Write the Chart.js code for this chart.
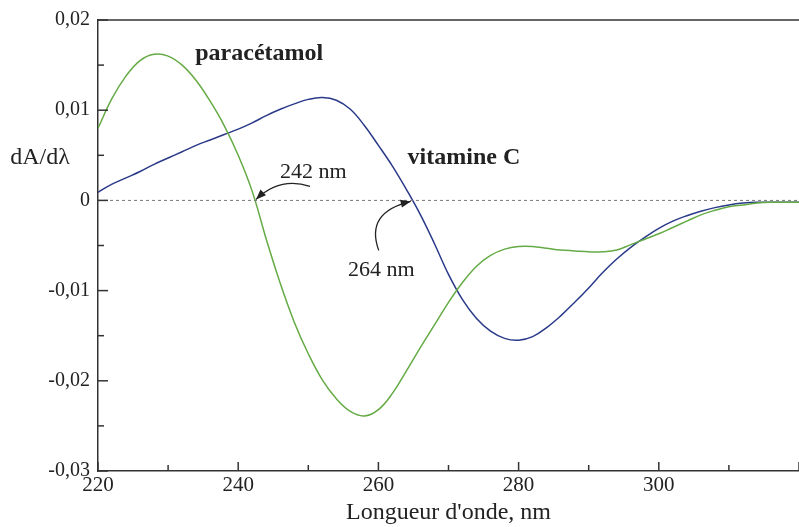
<!DOCTYPE html>
<html>
<head>
<meta charset="utf-8">
<script src="https://cdn.jsdelivr.net/npm/chart.js@4"></script>
<style>
  body { margin: 0; background: #fff; }
  canvas { display: block; }
</style>
</head>
<body>
<canvas id="chart" width="799" height="527"></canvas>
<script>
// wavelengths (nm) and first-derivative values
const wavelengths = [220, 222, 224, 226, 228, 230, 232, 234, 236, 238, 240, 242, 244, 246, 248, 250,
    252, 254, 256, 258, 260, 262, 264, 266, 268, 270, 272, 274, 276, 278, 280, 282, 284, 286, 288, 290,
    292, 294, 296, 298, 300, 302, 304, 306, 308, 310, 312, 314, 316, 318, 320];

const vitamineC = [0.0009, 0.0018, 0.0025, 0.0032, 0.0040, 0.0047, 0.0054, 0.0061, 0.0067, 0.0073,
    0.0079, 0.0086, 0.0094, 0.0101, 0.0107, 0.0112, 0.0114, 0.0111, 0.0101, 0.0083, 0.0061, 0.0038,
    0.0012, -0.0016, -0.0048, -0.0082, -0.0110, -0.0131, -0.0145, -0.0153, -0.0155, -0.0151, -0.0141,
    -0.0128, -0.0113, -0.0097, -0.0080, -0.0065, -0.0052, -0.0041, -0.0031, -0.0023, -0.0017, -0.0012,
    -0.0008, -0.0005, -0.0003, -0.0002, -0.0002, -0.0002, -0.0002];

const paracetamol = [0.0080, 0.0113, 0.0138, 0.0155, 0.0162, 0.0160, 0.0150, 0.0133, 0.0110, 0.0083,
    0.0050, 0.0010, -0.0043, -0.0092, -0.0135, -0.0170, -0.0199, -0.0220, -0.0234, -0.0239, -0.0232,
    -0.0214, -0.0189, -0.0163, -0.0138, -0.0113, -0.0091, -0.0073, -0.0061, -0.0054, -0.0051, -0.0051,
    -0.0053, -0.0055, -0.0056, -0.0057, -0.0057, -0.0055, -0.0049, -0.0043, -0.0037, -0.0030, -0.0023,
    -0.0016, -0.0011, -0.0007, -0.0005, -0.0003, -0.0002, -0.0002, -0.0002];

const xLabelTicks = [220, 240, 260, 280, 300];
const yLabelTicks = [0.02, 0.01, 0, -0.01, -0.02, -0.03];

const toPoints = (xs, ys) => xs.map((x, i) => ({ x: x, y: ys[i] }));

Chart.defaults.font.family = '"Liberation Serif", "DejaVu Serif", serif';
Chart.defaults.color = '#222';

function formatY(v) {
    if (Math.abs(v) < 1e-9) return '0';
    return v.toFixed(2).replace('.', ',');
}

function arrow(ctx, x0, y0, cx, cy, x1, y1) {
    ctx.beginPath();
    ctx.moveTo(x0, y0);
    ctx.quadraticCurveTo(cx, cy, x1, y1);
    ctx.stroke();
    const a = Math.atan2(y1 - cy, x1 - cx);
    const len = 10, w = 4;
    ctx.beginPath();
    ctx.moveTo(x1, y1);
    ctx.lineTo(x1 - len * Math.cos(a) + w * Math.sin(a), y1 - len * Math.sin(a) - w * Math.cos(a));
    ctx.lineTo(x1 - len * Math.cos(a) - w * Math.sin(a), y1 - len * Math.sin(a) + w * Math.cos(a));
    ctx.closePath();
    ctx.fill();
}

const decor = {
    id: 'decor',
    afterDraw(chart) {
        const { ctx, chartArea, scales } = chart;
        const xs = scales.x, ys = scales.y;
        ctx.save();
        ctx.strokeStyle = '#333';
        ctx.lineWidth = 1.5;

        // top frame line
        ctx.beginPath();
        ctx.moveTo(chartArea.left, chartArea.top);
        ctx.lineTo(chartArea.right, chartArea.top);
        ctx.stroke();

        // inward ticks
        for (let v = -0.03; v <= 0.0201; v += 0.005) {
            const major = Math.round(v * 1000) % 10 === 0;
            const py = ys.getPixelForValue(v);
            ctx.beginPath();
            ctx.moveTo(chartArea.left, py);
            ctx.lineTo(chartArea.left + (major ? 10 : 6), py);
            ctx.stroke();
        }
        for (let v = 220; v <= 320; v += 10) {
            const major = v % 20 === 0;
            const px = xs.getPixelForValue(v);
            ctx.beginPath();
            ctx.moveTo(px, chartArea.bottom);
            ctx.lineTo(px, chartArea.bottom - (major ? 9 : 6));
            ctx.stroke();
        }

        // y axis title (horizontal)
        ctx.fillStyle = '#222';
        ctx.textAlign = 'center';
        ctx.textBaseline = 'middle';
        ctx.font = '24px "Liberation Serif", serif';
        ctx.fillText('dA/dλ', 40, 158);

        // curve labels
        ctx.font = 'bold 24px "Liberation Serif", serif';
        ctx.fillText('paracétamol', xs.getPixelForValue(243), ys.getPixelForValue(0.0163));
        ctx.fillText('vitamine C', xs.getPixelForValue(272.2), ys.getPixelForValue(0.0047));

        ctx.font = '22px "Liberation Serif", serif';
        ctx.fillText('242 nm', xs.getPixelForValue(250.7), ys.getPixelForValue(0.0031));
        ctx.fillText('264 nm', xs.getPixelForValue(260.4), ys.getPixelForValue(-0.0077));

        // arrows pointing at the zero crossings
        ctx.strokeStyle = '#222';
        ctx.fillStyle = '#222';
        ctx.lineWidth = 1.3;
        const z = ys.getPixelForValue(0);
        const t1 = xs.getPixelForValue(242.4);
        arrow(ctx, t1 + 55, z - 14, t1 + 25, z - 24, t1 + 1, z - 1);
        const t2 = xs.getPixelForValue(264.9);
        arrow(ctx, t2 - 34, z + 50, t2 - 48, z + 12, t2 - 2, z + 1);
        ctx.restore();
    }
};

new Chart(document.getElementById('chart'), {
    type: 'line',
    data: {
        datasets: [
            {
                label: 'zero',
                data: [{ x: 220, y: 0 }, { x: 320, y: 0 }],
                borderColor: '#777',
                borderWidth: 1,
                borderDash: [3, 3],
                pointRadius: 0
            },
            {
                label: 'paracétamol',
                data: toPoints(wavelengths, paracetamol),
                borderColor: '#65ab45',
                borderWidth: 1.5,
                pointRadius: 0,
                tension: 0.4
            },
            {
                label: 'vitamine C',
                data: toPoints(wavelengths, vitamineC),
                borderColor: '#2a3a88',
                borderWidth: 1.5,
                pointRadius: 0,
                tension: 0.4
            }
        ]
    },
    options: {
        responsive: false,
        animation: false,
        layout: { padding: { top: 18, right: 0, left: 0, bottom: 0 } },
        plugins: {
            legend: { display: false },
            tooltip: { enabled: false }
        },
        scales: {
            x: {
                type: 'linear',
                min: 220,
                max: 320,
                afterFit: scale => { scale.height = 56; },
                afterBuildTicks: scale => { scale.ticks = xLabelTicks.map(v => ({ value: v })); },
                grid: { display: false, drawTicks: false },
                border: { display: true, color: '#333', width: 1.5 },
                ticks: { padding: 2, font: { size: 21 }, color: '#222' },
                title: {
                    display: true,
                    text: "Longueur d'onde, nm",
                    font: { size: 24 },
                    color: '#222',
                    padding: { top: 0, bottom: 0 }
                }
            },
            y: {
                type: 'linear',
                min: -0.03,
                max: 0.02,
                afterFit: scale => { scale.width = 98; },
                afterBuildTicks: scale => { scale.ticks = yLabelTicks.map(v => ({ value: v })); },
                grid: { display: false, drawTicks: false },
                border: { display: true, color: '#333', width: 1.5 },
                ticks: {
                    padding: 8,
                    font: { size: 20 },
                    color: '#222',
                    callback: v => formatY(v)
                }
            }
        }
    },
    plugins: [decor]
});
</script>
</body>
</html>
